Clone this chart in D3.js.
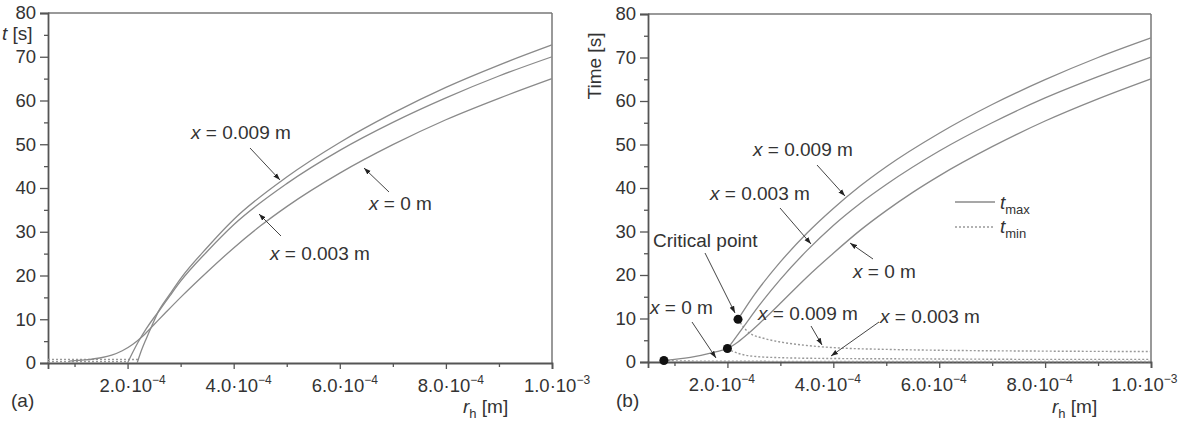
<!DOCTYPE html>
<html><head><meta charset="utf-8">
<script src="https://cdn.jsdelivr.net/npm/d3@7"></script>
<style>
body{margin:0;background:#fff;}
svg{display:block;font-family:"Liberation Sans",Arial,sans-serif;}
</style></head>
<body>
<svg id="c" width="1178" height="434"></svg>
<script>
// r in units of 1e-4 m, t in s
const xTickVals = [2, 4, 6, 8, 10];
const xTickMant = ["2.0", "4.0", "6.0", "8.0", "1.0"];
const xTickExp = ["−4", "−4", "−4", "−4", "−3"];
const xMinor = [1, 3, 5, 7, 9];
const yTickVals = [0, 10, 20, 30, 40, 50, 60, 70, 80];
const yMinor = [5, 15, 25, 35, 45, 55, 65, 75];

// Panel (a)
const aR009 = [2.18, 2.25, 2.35, 2.45, 2.6, 2.8, 3.0, 3.5, 4.0, 5.0, 6.0, 7.0, 8.0, 9.0, 10];
const aT009 = [0, 2.5, 5.5, 8.3, 12.2, 15.8, 19.3, 26.4, 32.8, 42.5, 50.4, 57.1, 63.0, 68.1, 72.7];
const aR003 = [2.0, 2.1, 2.2, 2.35, 2.5, 2.6, 2.8, 3.0, 3.5, 4.0, 5.0, 6.0, 7.0, 8.0, 9.0, 10];
const aT003 = [0, 2.5, 4.8, 7.8, 10.4, 12.0, 15.4, 18.7, 25.5, 31.6, 41.0, 48.6, 55.0, 60.6, 65.6, 70];
const aR0 = [0.9, 1.2, 1.5, 1.7, 1.9, 2.1, 2.3, 2.5, 2.7, 3.0, 3.5, 4.0, 4.5, 5.0, 6.0, 7.0, 8.0, 9.0, 10];
const aT0 = [0.45, 0.7, 1.2, 1.8, 2.8, 4.3, 6.3, 8.8, 11.3, 15.0, 20.8, 26.3, 31.3, 35.75, 43.4, 49.9, 55.6, 60.5, 65];
const aRmin1 = [0.5, 1.0, 1.5, 2.0, 2.2];
const aTmin1 = [0.8, 0.8, 0.8, 0.8, 0.8];
const aRmin2 = [0.5, 1.0, 1.5, 2.0];
const aTmin2 = [0.3, 0.3, 0.3, 0.3];

// Panel (b) t_max
const bR009 = [2.2, 2.5, 3.0, 3.5, 4.0, 4.5, 5.0, 6.0, 7.0, 8.0, 9.0, 10];
const bT009 = [9.8, 15.3, 23.0, 29.6, 35.3, 40.4, 44.9, 52.6, 59.2, 64.9, 70.0, 74.5];
const bR003 = [2.0, 2.3, 2.6, 3.0, 3.5, 4.0, 4.5, 5.0, 6.0, 7.0, 8.0, 9.0, 10];
const bT003 = [3.0, 8.0, 13.0, 19.0, 25.6, 31.4, 36.4, 40.8, 48.5, 55.0, 60.7, 65.6, 70.1];
const bR0 = [0.8, 1.0, 1.2, 1.4, 1.6, 1.8, 2.0, 2.2, 2.4, 2.6, 2.8, 3.0, 3.5, 4.0, 4.5, 5.0, 5.5, 6.0, 7.0, 8.0, 9.0, 10];
const bT0 = [0.35, 0.6, 0.9, 1.3, 1.8, 2.4, 3.1, 4.6, 6.6, 8.8, 11.1, 13.5, 19.5, 25.0, 30.2, 34.8, 39.0, 42.8, 49.5, 55.4, 60.5, 65.1];
// Panel (b) t_min
const bRmin009 = [2.2, 2.4, 2.7, 3.0, 3.5, 4.0, 5.0, 6.0, 8.0, 10];
const bTmin009 = [9.8, 6.8, 5.4, 4.6, 3.8, 3.3, 2.9, 2.7, 2.5, 2.4];
const bRmin003 = [2.0, 2.2, 2.5, 3.0, 4.0, 6.0, 8.0, 10];
const bTmin003 = [3.0, 2.0, 1.3, 1.0, 0.8, 0.7, 0.6, 0.6];
const bRmin0 = [0.8, 1.5, 3.0, 6.0, 10];
const bTmin0 = [0.3, 0.2, 0.15, 0.12, 0.1];
// critical points
const critR = [0.8, 2.0, 2.2];
const critT = [0.35, 3.1, 9.8];

const svg = d3.select("#c");
const lineCol = "#8a8a8a", axisCol = "#555", textCol = "#333";

svg.append("defs").append("marker").attr("id", "ah")
  .attr("viewBox", "0 0 10 10").attr("refX", 10).attr("refY", 5)
  .attr("markerWidth", 7).attr("markerHeight", 7).attr("orient", "auto")
  .attr("markerUnits", "userSpaceOnUse")
  .append("path").attr("d", "M0,1.5 L10,5 L0,8.5 z").attr("fill", "#222");

function panel(x0, x1, y0, y1, lblOff, lastEnd) {
  const x = d3.scaleLinear().domain([0.5, 10]).range([x0, x1]);
  const y = d3.scaleLinear().domain([0, 80]).range([y0, y1]);
  const g = svg.append("g");
  g.append("line").attr("x1", x0).attr("x2", x1).attr("y1", y1).attr("y2", y1).attr("stroke", "#777").attr("stroke-width", 1.5);
  g.append("line").attr("x1", x1).attr("x2", x1).attr("y1", y1).attr("y2", y0).attr("stroke", "#777").attr("stroke-width", 1.5);
  const xa = g.append("g").attr("transform", `translate(0,${y0})`)
    .call(d3.axisBottom(x).tickValues(xTickVals).tickSize(6).tickFormat(""));
  g.append("g").attr("transform", `translate(0,${y0})`)
    .call(d3.axisBottom(x).tickValues(xMinor).tickSize(4).tickFormat(""))
    .select(".domain").remove();
  xa.selectAll(".tick").each(function(d, i) {
    const isLast = (i === xTickVals.length - 1) && lastEnd;
    const t = d3.select(this).append("text").attr("y", 29)
      .attr("x", isLast ? lastEnd - x(d) : lblOff)
      .attr("text-anchor", isLast ? "end" : "middle").attr("fill", textCol).attr("font-size", 18.5);
    t.append("tspan").text(xTickMant[i] + "·10");
    t.append("tspan").attr("font-size", 12).attr("dy", -8).text(xTickExp[i]);
  });
  const ya = g.append("g").attr("transform", `translate(${x0},0)`)
    .call(d3.axisLeft(y).tickValues(yTickVals).tickSize(8).tickPadding(4));
  g.append("g").attr("transform", `translate(${x0},0)`)
    .call(d3.axisLeft(y).tickValues(yMinor).tickSize(4).tickFormat(""))
    .select(".domain").remove();
  ya.selectAll("text").attr("font-size", 18.5).attr("fill", textCol).attr("font-family", "Liberation Sans, Arial, sans-serif");
  g.selectAll(".domain").attr("stroke", axisCol).attr("stroke-width", 1.8);
  g.selectAll(".tick line").attr("stroke", axisCol).attr("stroke-width", 1.3);
  return {x, y, g};
}

function drawLine(p, rs, ts, dashed) {
  const pts = rs.map((r, i) => [r, ts[i]]);
  const line = d3.line().x(d => p.x(d[0])).y(d => p.y(d[1])).curve(d3.curveMonotoneX);
  p.g.append("path").attr("d", line(pts)).attr("fill", "none")
    .attr("stroke", dashed ? "#999" : lineCol).attr("stroke-width", dashed ? 1.4 : 1.3)
    .attr("stroke-dasharray", dashed ? "2,2" : null);
}

function label(x, y, parts, size) {
  const t = svg.append("text").attr("x", x).attr("y", y).attr("fill", textCol).attr("font-size", size || 19);
  parts.forEach(p => {
    const s = t.append("tspan").text(p.t);
    if (p.i) s.attr("font-style", "italic");
    if (p.sub) s.attr("font-size", 13).attr("dy", 5);
    if (p.dy) s.attr("dy", p.dy);
  });
  return t;
}
function xlabel(x, y, val) {
  return label(x, y, [{t: "x", i: true}, {t: " = " + val + " m"}]);
}
function arrow(x1, y1, x2, y2) {
  svg.append("line").attr("x1", x1).attr("y1", y1).attr("x2", x2).attr("y2", y2)
    .attr("stroke", "#444").attr("stroke-width", 1).attr("marker-end", "url(#ah)");
}

// ---- Panel (a)
const A = panel(48, 552, 363, 13, 4.5, null);
drawLine(A, aRmin1, aTmin1, true);
drawLine(A, aRmin2, aTmin2, true);
drawLine(A, aR0, aT0, false);
drawLine(A, aR003, aT003, false);
drawLine(A, aR009, aT009, false);

xlabel(191, 139, "0.009");
arrow(250, 148, 280, 180);
xlabel(270, 260, "0.003");
arrow(281, 236, 259, 214);
xlabel(369, 210, "0");
arrow(389, 192, 364, 168);
label(11, 407, [{t: "(a)"}]);
label(463, 413, [{t: "r", i: true}, {t: "h", sub: true}, {t: " [m]", dy: -5}]);
label(2, 40, [{t: "t", i: true}, {t: " [s]"}]);

// ---- Panel (b)
const B = panel(648, 1151, 362, 14, -6, 1177);
drawLine(B, bRmin0, bTmin0, true);
drawLine(B, bRmin003, bTmin003, true);
drawLine(B, bRmin009, bTmin009, true);
drawLine(B, bR0, bT0, false);
drawLine(B, bR003, bT003, false);
drawLine(B, bR009, bT009, false);
B.g.selectAll("circle.crit").data(critR).join("circle").attr("class", "crit")
  .attr("cx", (d) => B.x(d)).attr("cy", (d, i) => B.y(critT[i])).attr("r", 4.5).attr("fill", "#111");

svg.append("text").attr("transform", "translate(601,66) rotate(-90)").attr("text-anchor", "middle")
  .attr("fill", textCol).attr("font-size", 19).text("Time [s]");
xlabel(753, 156, "0.009");
arrow(817, 165, 845, 196);
xlabel(710, 200, "0.003");
arrow(780, 208, 811, 244);
xlabel(853, 278, "0");
arrow(873, 259, 850, 243);
label(653, 247, [{t: "Critical point"}]);
arrow(705, 253, 735, 313);
xlabel(650, 314, "0");
arrow(692, 322, 716, 358);
xlabel(758, 320, "0.009");
arrow(811, 326, 822, 345);
xlabel(880, 323, "0.003");
arrow(879, 322, 831, 356);
label(616, 407, [{t: "(b)"}]);
label(1052, 413, [{t: "r", i: true}, {t: "h", sub: true}, {t: " [m]", dy: -5}]);

// legend
svg.append("line").attr("x1", 955).attr("x2", 995).attr("y1", 202).attr("y2", 202).attr("stroke", lineCol).attr("stroke-width", 1.3);
svg.append("line").attr("x1", 955).attr("x2", 995).attr("y1", 227).attr("y2", 227).attr("stroke", "#999").attr("stroke-width", 1.4).attr("stroke-dasharray", "2,2");
label(1000, 209, [{t: "t", i: true}, {t: "max", sub: true}]);
label(1000, 233, [{t: "t", i: true}, {t: "min", sub: true}]);
</script>
</body></html>
